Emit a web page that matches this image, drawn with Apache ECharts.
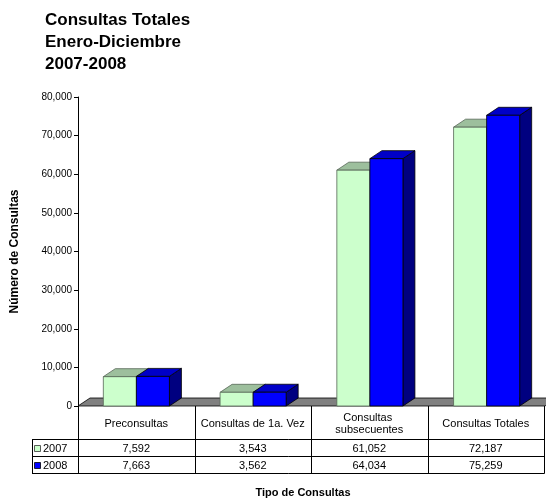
<!DOCTYPE html>
<html>
<head>
<meta charset="utf-8">
<script src="https://cdn.jsdelivr.net/npm/echarts@6/dist/echarts.min.js"></script>
<style>html,body{margin:0;padding:0;background:#fff;}#c{width:546px;height:502px;}</style>
</head>
<body>
<div id="c"></div>
<script>
// ---- data ----
const categories = ['Preconsultas', 'Consultas de 1a. Vez', 'Consultas subsecuentes', 'Consultas Totales'];
const years = ['2007', '2008'];
const values2007 = [7592, 3543, 61052, 72187];
const values2008 = [7663, 3562, 64034, 75259];
const yMin = 0, yMax = 80000, yStep = 10000;
const titleLines = ['Consultas Totales', 'Enero-Diciembre', '2007-2008'];
const yAxisTitle = 'Número de Consultas';
const xAxisTitle = 'Tipo de Consultas';

// ---- layout / style ----
const FONT = 'Liberation Sans, Arial, sans-serif';
const G = { left: 78, right: 1, top: 97, bottom: 96 };
const W = 546, H = 502;
const plotL = G.left, plotR = W - G.right, baseY = H - G.bottom;
const DX = 12, DY = 8;
const styles = [
  { front: '#CCFFCC', top: '#9DBF9D', side: '#88AA88', stroke: '#556655' },
  { front: '#0000FF', top: '#0000C8', side: '#000080', stroke: '#000000' }
];
const fmt = v => v.toLocaleString('en-US');

function barRenderer(k) {
  return function (params, api) {
    const idx = api.value(0), val = api.value(1);
    const top = api.coord([idx, val]);
    const base = api.coord([idx, 0]);
    const band = api.size([1, 0])[0];
    const w = band * 0.283;
    const x0 = k === 0 ? top[0] - w : top[0];
    const x1 = x0 + w;
    const yT = top[1], yB = base[1];
    const st = styles[k];
    const lw = 0.8;
    return {
      type: 'group',
      children: [
        { type: 'polygon', shape: { points: [[x1, yT], [x1 + DX, yT - DY], [x1 + DX, yB - DY], [x1, yB]] },
          style: { fill: st.side, stroke: st.stroke, lineWidth: lw } },
        { type: 'polygon', shape: { points: [[x0, yT], [x1, yT], [x1 + DX, yT - DY], [x0 + DX, yT - DY]] },
          style: { fill: st.top, stroke: st.stroke, lineWidth: lw } },
        { type: 'rect', shape: { x: x0, y: yT, width: w, height: yB - yT },
          style: { fill: st.front, stroke: st.stroke, lineWidth: lw } }
      ]
    };
  };
}

function floorRenderer(params, api) {
  const cs = params.coordSys;
  const yB = api.coord([0, 0])[1];
  const x = cs.x, w = cs.width;
  return {
    type: 'polygon',
    shape: { points: [[x, yB], [x + w, yB], [x + w + DX, yB - DY], [x + DX, yB - DY]] },
    style: { fill: '#808080', stroke: '#000', lineWidth: 0.8 }
  };
}

// ---- table graphics ----
const tY0 = baseY, tY1 = baseY + 33, tY2 = baseY + 50, tY3 = baseY + 67;
const legL = 32;
const cw = (plotR - 1 - plotL) / categories.length;
const graphics = [];
const line = (x1, y1, x2, y2) => graphics.push({ type: 'line', shape: { x1, y1, x2, y2 }, style: { stroke: '#000', lineWidth: 1 }, z: 10 });
[tY1, tY2, tY3].forEach(y => line(legL, y + 0.5, plotL + cw * categories.length + 0.5, y + 0.5));
for (let i = 0; i <= categories.length; i++) {
  const x = Math.round(plotL + cw * i) + 0.5;
  line(x, tY0, x, tY3 + 0.5);
}
line(legL + 0.5, tY1, legL + 0.5, tY3 + 0.5);
categories.forEach((c, i) => {
  const cx = plotL + cw * (i + 0.5);
  graphics.push({ type: 'text', x: cx, y: (tY0 + tY1) / 2 + 1, z: 10,
    style: { text: c, width: 108, overflow: 'break', fontFamily: FONT, fontSize: 11, fill: '#000',
             align: 'center', verticalAlign: 'middle', lineHeight: 12 } });
  [values2007, values2008].forEach((arr, k) => {
    const yc = k === 0 ? (tY1 + tY2) / 2 + 1 : (tY2 + tY3) / 2 + 1;
    graphics.push({ type: 'text', x: cx, y: yc, z: 10,
      style: { text: fmt(arr[i]), fontFamily: FONT, fontSize: 11, fill: '#000', align: 'center', verticalAlign: 'middle' } });
  });
});
years.forEach((yr, k) => {
  const yc = k === 0 ? (tY1 + tY2) / 2 + 1 : (tY2 + tY3) / 2 + 1;
  graphics.push({ type: 'rect', z: 10, shape: { x: legL + 2.5, y: Math.round(yc) - 3.5, width: 6, height: 6 },
    style: { fill: styles[k].front, stroke: k === 0 ? '#333' : '#000', lineWidth: 0.8 } });
  graphics.push({ type: 'text', z: 10, x: legL + 11, y: yc,
    style: { text: yr, fontFamily: FONT, fontSize: 11, fill: '#000', align: 'left', verticalAlign: 'middle' } });
});
graphics.push({ type: 'text', z: 10, x: 303, y: 493,
  style: { text: xAxisTitle, fontFamily: FONT, fontSize: 11, fontWeight: 'bold', fill: '#000', align: 'center', verticalAlign: 'middle' } });

const chart = echarts.init(document.getElementById('c'), null, { renderer: 'canvas' });
chart.setOption({
  animation: false,
  backgroundColor: '#fff',
  title: {
    text: titleLines.join('\n'), left: 45, top: 9, padding: 0,
    textStyle: { fontFamily: FONT, fontSize: 17, fontWeight: 'bold', color: '#000', lineHeight: 22 }
  },
  grid: { left: G.left, right: G.right, top: G.top, bottom: G.bottom },
  xAxis: {
    type: 'category', data: categories,
    axisLine: { show: false }, axisTick: { show: false }, axisLabel: { show: false }, splitLine: { show: false }
  },
  yAxis: {
    type: 'value', min: yMin, max: yMax, interval: yStep,
    name: yAxisTitle, nameLocation: 'middle', nameGap: 57, nameRotate: 90,
    nameTextStyle: { fontFamily: FONT, fontSize: 12, fontWeight: 'bold', color: '#000' },
    axisLine: { show: true, lineStyle: { color: '#000', width: 1 } },
    axisTick: { show: true, length: 4, lineStyle: { color: '#000' } },
    axisLabel: { formatter: v => fmt(v), fontFamily: FONT, fontSize: 10, color: '#000', margin: 6 },
    splitLine: { show: false }
  },
  series: [
    { type: 'custom', name: 'floor', data: [[0, 0]], renderItem: floorRenderer, z: 1, silent: true },
    { type: 'custom', name: years[0], data: values2007.map((v, i) => [i, v]), encode: { x: 0, y: 1 }, renderItem: barRenderer(0), z: 2 },
    { type: 'custom', name: years[1], data: values2008.map((v, i) => [i, v]), encode: { x: 0, y: 1 }, renderItem: barRenderer(1), z: 3 }
  ],
  graphic: graphics
});
</script>
</body>
</html>
